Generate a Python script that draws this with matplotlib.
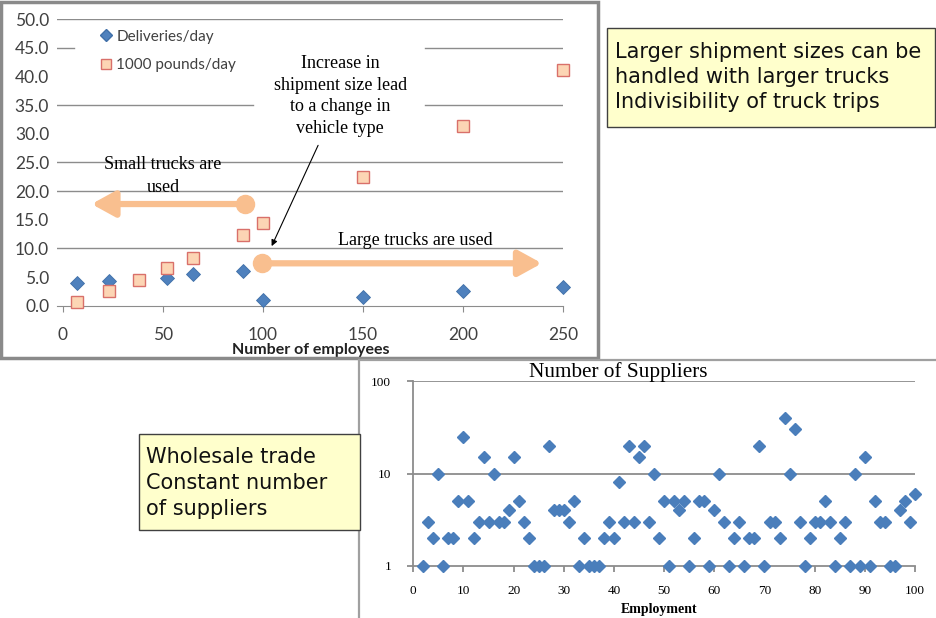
import numpy as np
import matplotlib
matplotlib.use('Agg')
import matplotlib.pyplot as plt
from matplotlib.patches import Rectangle
from matplotlib.lines import Line2D

# top chart: shipments vs employees
employees_del = [7, 23, 52, 65, 90, 100, 150, 200, 250]
deliveries = [4.0, 4.3, 4.9, 5.5, 6.05, 1.0, 1.5, 2.6, 3.2]
employees_lbs = [7, 23, 38, 52, 65, 90, 100, 150, 200, 250]
pounds = [0.7, 2.6, 4.5, 6.5, 8.4, 12.3, 14.4, 22.4, 31.4, 41.1]
top_yticks = [0, 5, 10, 15, 20, 25, 30, 35, 40, 45, 50]
top_xticks = [0, 50, 100, 150, 200, 250]

# bottom chart: number of suppliers vs employment
employment = list(range(2, 101))
suppliers = [1, 3, 2, 10, 1, 2, 2, 5, 25, 5, 2, 3, 15, 3, 10, 3, 3, 4, 15, 5,
             3, 2, 1, 1, 1, 20, 4, 4, 4, 3, 5, 1, 2, 1, 1, 1, 2, 3, 2, 8,
             3, 20, 3, 15, 20, 3, 10, 2, 5, 1, 5, 4, 5, 1, 2, 5, 5, 1, 4, 10,
             3, 1, 2, 3, 1, 2, 2, 20, 1, 3, 3, 2, 40, 10, 30, 3, 1, 2, 3, 3,
             5, 3, 1, 2, 3, 1, 10, 1, 15, 1, 5, 3, 3, 1, 1, 4, 5, 3, 6]
bot_xticks = list(range(0, 101, 10))

W, H = 937, 618
fig = plt.figure(figsize=(W / 100, H / 100), dpi=100)
fig.patch.set_facecolor('white')


def box(l, t, r, b):
    # pixel box -> figure fraction rect
    return [l / W, 1 - b / H, (r - l) / W, (b - t) / H]


# frames of the two pasted charts
fig.patches.append(Rectangle((1.5 / W, 1 - 358 / H), 597 / W, 356.5 / H,
                             transform=fig.transFigure, fill=False,
                             edgecolor='#8a8a8a', lw=2.5, zorder=0))
fig.patches.append(Rectangle((359 / W, 1 - 640 / H), 600 / W, 280 / H,
                             transform=fig.transFigure, fill=False,
                             edgecolor='#a0a0a0', lw=1.6, zorder=0))

# ---------------- top chart ----------------
ax = fig.add_axes(box(57.5, 19.3, 563.3, 305.7))
ax.set_xlim(-2.7, 250)
ax.set_ylim(0, 50)
for s in ['top', 'right', 'left']:
    ax.spines[s].set_visible(False)
ax.spines['bottom'].set_color('#8c8c8c')
ax.patch.set_alpha(0)

# grid lines that show through in the picture (some hidden by text boxes)
grid_segments = [(10, -2.7, 250), (20, -2.7, 250), (25, -2.7, 250),
                 (35, -2.7, 95), (35, 181, 250),
                 (45, -2.7, 5.5), (45, 181, 250), (50, -2.7, 250)]
for yv, x0, x1 in grid_segments:
    ax.plot([x0, x1], [yv, yv], color='#8c8c8c', lw=1, zorder=1)

ax.plot(employees_del, deliveries, linestyle='none', marker='D', ms=7.5,
        mfc='#4f81bd', mec='#3f6fa8', mew=0.6, zorder=3, clip_on=False)
ax.plot(employees_lbs, pounds, linestyle='none', marker='s', ms=8,
        mfc='#fcd5b4', mec='#d9706a', mew=1, zorder=3, clip_on=False)

ax.set_xticks(top_xticks)
ax.set_yticks(top_yticks)
ax.set_yticklabels(['%.1f' % v for v in top_yticks])
ax.tick_params(axis='y', length=0, pad=6, labelsize=12.5, labelcolor='#404040')
ax.tick_params(axis='x', length=4, color='#8c8c8c', pad=11, labelsize=12.5,
               labelcolor='#404040')
for lab in ax.get_xticklabels() + ax.get_yticklabels():
    lab.set_family('Lato')
ax.set_xlabel('Number of employees', fontsize=11.5, fontweight='bold',
              family='Lato', color='#222222', labelpad=0)

leg_handles = [Line2D([], [], linestyle='none', marker='D', ms=6,
                      mfc='#4f81bd', mec='#3f6fa8'),
               Line2D([], [], linestyle='none', marker='s', ms=7,
                      mfc='#fcd5b4', mec='#d9706a')]
ax.legend(leg_handles, ['Deliveries/day', '1000 pounds/day'], loc='upper left',
          bbox_to_anchor=(0.05, 1.012), frameon=False, handletextpad=0.1,
          handlelength=1.2, labelspacing=0.95,
          prop={'family': 'Lato', 'size': 11}, labelcolor='#404040')

serif = 'Liberation Serif'
ax.text(50, 22.6, 'Small trucks are\nused', ha='center', va='center',
        family=serif, fontsize=13, linespacing=1.45, zorder=4)
ax.text(176, 11.3, 'Large trucks are used', ha='center', va='center',
        family=serif, fontsize=13, zorder=4)
ax.text(138.5, 36.6, 'Increase in\nshipment size lead\nto a change in\nvehicle type',
        ha='center', va='center', family=serif, fontsize=13, linespacing=1.36,
        zorder=4)
ax.annotate('', xy=(104.3, 10.4), xytext=(127.5, 28.0),
            arrowprops=dict(arrowstyle='-|>', color='black', lw=0.8,
                            mutation_scale=9, shrinkA=0, shrinkB=0), zorder=4)

orange = '#f9bf8f'
arrows = [((91, 17.75), (14.3, 17.75)), ((99.3, 7.4), (239.3, 7.4))]
for start, tip in arrows:
    ax.annotate('', xy=tip, xytext=start,
                arrowprops=dict(arrowstyle='-|>,head_width=0.55,head_length=1.0',
                                color=orange, lw=4.5, mutation_scale=14,
                                shrinkA=0, shrinkB=0), zorder=4)
    ax.plot(*start, marker='o', ms=13, color=orange, zorder=5, clip_on=False)

# ---------------- bottom chart ----------------
ax2 = fig.add_axes(box(413.3, 381, 915, 566))
ax2.set_yscale('log')
ax2.set_xlim(0, 100)
ax2.set_ylim(1, 100)
ax2.patch.set_alpha(0)
for s in ['top', 'right']:
    ax2.spines[s].set_visible(False)
for s in ['left', 'bottom']:
    ax2.spines[s].set_color('#8c8c8c')
    ax2.spines[s].set_linewidth(1.3)
ax2.axhline(10, color='#8c8c8c', lw=1.3, zorder=1)
ax2.axhline(100, color='#8c8c8c', lw=1.3, zorder=1)
ax2.plot(employment, suppliers, linestyle='none', marker='D', ms=6,
         mfc='#4a7ebb', mec='#4a7ebb', zorder=3, clip_on=False)
ax2.set_xticks(bot_xticks)
ax2.set_yticks([1, 10, 100])
ax2.set_yticklabels(['1', '10', '100'])
ax2.yaxis.set_minor_locator(matplotlib.ticker.NullLocator())
ax2.tick_params(axis='both', length=4, color='#8c8c8c', width=1.3,
                labelsize=9.5, pad=10)
ax2.tick_params(axis='y', pad=12)
for lab in ax2.get_xticklabels() + ax2.get_yticklabels():
    lab.set_family(serif)
fig.text(659 / W, 1 - 609 / H, 'Employment', ha='center', va='center',
         family=serif, fontweight='bold', fontsize=10)
fig.text(618 / W, 1 - 372 / H, 'Number of Suppliers', ha='center',
         va='center', family=serif, fontsize=15.3)

# ---------------- yellow note boxes ----------------
for rect in [box(607, 28, 935, 127), box(139, 434, 360, 530)]:
    fig.patches.append(Rectangle((rect[0], rect[1]), rect[2], rect[3],
                                 transform=fig.transFigure,
                                 facecolor='#ffffcc', edgecolor='#404040',
                                 lw=1, zorder=5))
fig.text(615 / W, 1 - 77 / H,
         'Larger shipment sizes can be\nhandled with larger trucks\nIndivisibility of truck trips',
         ha='left', va='center', family='DejaVu Sans', fontsize=15,
         linespacing=1.3, color='#111111', zorder=6)
fig.text(146 / W, 1 - 483 / H, 'Wholesale trade\nConstant number\nof suppliers',
         ha='left', va='center', family='DejaVu Sans', fontsize=15,
         linespacing=1.36, color='#111111', zorder=6)

fig.savefig('out.png', dpi=100)
